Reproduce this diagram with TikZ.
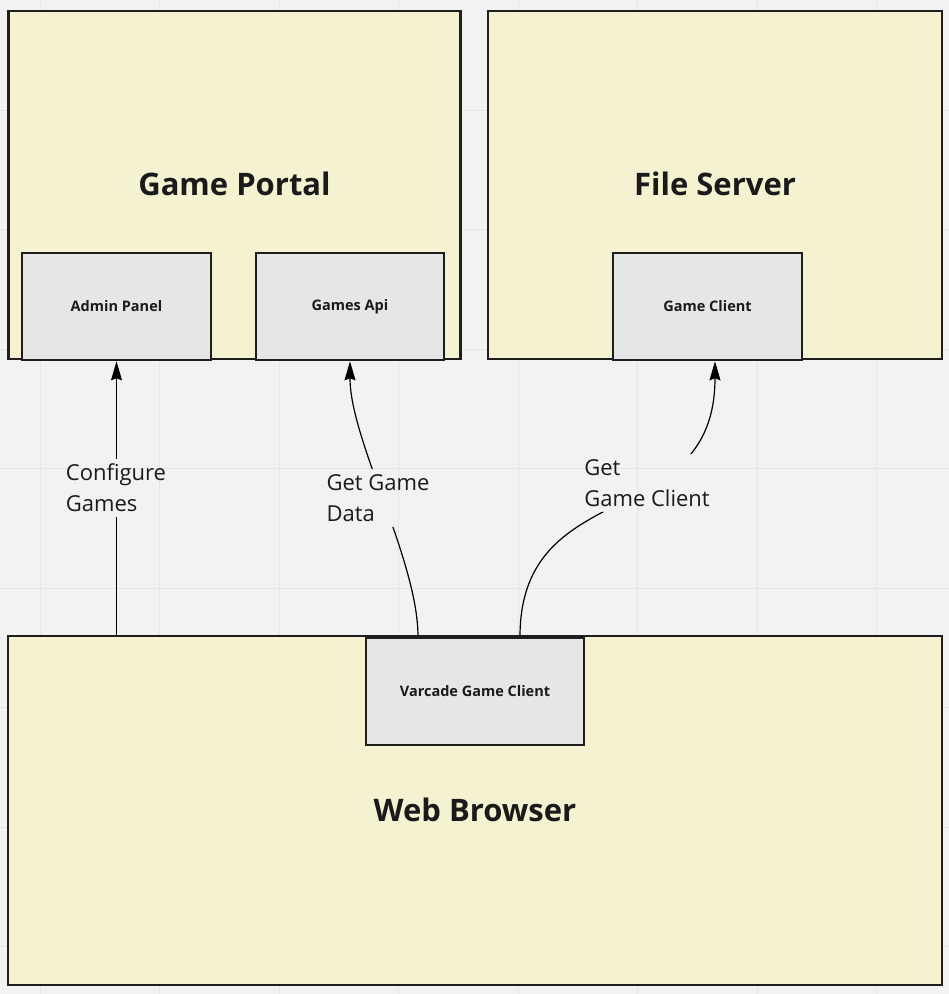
\documentclass[tikz,border=0pt]{standalone}
\usepackage{fontspec}
\setmainfont{Open Sans}
\usetikzlibrary{arrows.meta}

\definecolor{boardbg}{HTML}{F2F2F2}
\definecolor{gridline}{HTML}{E6E6E6}
\definecolor{zonefill}{RGB}{245,243,207}
\definecolor{partfill}{HTML}{E6E6E6}
\definecolor{inkline}{HTML}{1E1E1E}
\definecolor{inktext}{HTML}{1A1A1A}

\tikzset{
  zone/.style={draw=inkline, line width=2.6pt, fill=zonefill, fill opacity=.95, text opacity=1,
    inner sep=0pt, text=inktext, font=\bfseries\fontsize{31}{37}\selectfont},
  part/.style={draw=inkline, line width=2.6pt, fill=partfill, inner sep=0pt, text=inktext,
    minimum width=189pt, minimum height=107pt, font=\bfseries\fontsize{14.5}{17}\selectfont},
  flow/.style={draw=black, line width=1.2pt, -{Stealth[length=19pt,width=11pt,inset=2pt]}},
  flowlabel/.style={align=left, inner sep=5pt, text=inktext, font=\fontsize{22}{31}\selectfont},
}

% clip away the part of a connector that runs under its label
\newcommand{\gapclip}[1]{\clip (0,0) rectangle (949,994) (#1.south west) rectangle (#1.north east);}

\begin{document}
\begin{tikzpicture}[x=1pt, y=-1pt]
    \useasboundingbox (0,0) rectangle (949,994);
    \fill[boardbg] (0,0) rectangle (949,994);

        % Draw board grid
    \foreach \k in {0,...,7} {
        \draw[gridline, line width=1pt] ({40+119.5*\k},0) -- ({40+119.5*\k},994);
        \draw[gridline, line width=1pt] (0,{110+119.5*\k}) -- (949,{110+119.5*\k});
    }

        % Draw zones
    \node[zone, minimum width=452pt, minimum height=348pt] (portal) at (234.5,185) {\raisebox{2pt}{Game Portal}};
    \node[zone, minimum width=454pt, minimum height=348pt] (fileserver) at (715,185) {\raisebox{2pt}{File Server}};
    \node[zone, minimum width=934pt, minimum height=349pt] (browser) at (475,810.5) {\raisebox{2pt}{Web Browser}};

        % Draw parts inside the zones
    \node[part] (admin) at (116.5,306.5) {Admin Panel};
    \node[part, minimum width=188pt] (gamesapi) at (350,306.5) {Games Api};
    \node[part] (gameclient) at (707.5,306.5) {Game Client};
    \node[part, minimum width=218pt] (varcade) at (475,691.5) {Varcade Game Client};

        % Add connector labels
    \node[flowlabel] (configlbl) at (116,488) {Configure\\Games};
    \node[flowlabel] (datalbl) at (378,498) {Get Game\\Data};
    \node[flowlabel] (clientlbl) at (647,483) {Get\\Game Client};

        % Draw connectors, broken round their labels
    \begin{scope}[even odd rule]
        \gapclip{configlbl}
        \draw[flow] (admin.south |- browser.north) -- (admin.south);
    \end{scope}
    \begin{scope}[even odd rule]
        \gapclip{datalbl}
        \draw[flow] ([xshift=-57pt]varcade.north) .. controls (418,560) and (350,440) .. (gamesapi.south);
    \end{scope}
    \begin{scope}[even odd rule]
        \gapclip{clientlbl}
        \draw[flow] ([xshift=45pt]varcade.north) .. controls (520,473) and (715,534) .. ([xshift=7.5pt]gameclient.south);
    \end{scope}
  \end{tikzpicture}
\end{document}
